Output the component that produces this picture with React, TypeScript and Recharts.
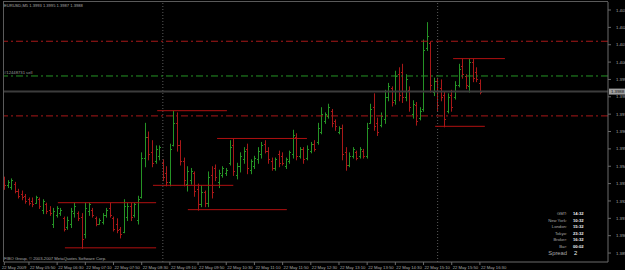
import React from 'react';
import { ComposedChart, Bar, XAxis, YAxis, ReferenceLine } from 'recharts';

// EURUSD M5, 22 May 2009, bars from 05:15 to 16:30 (one value per bar)
const opens = [
  1.3938, 1.3934, 1.3933, 1.3935, 1.3931, 1.3929, 1.3928, 1.3926, 1.3925, 1.3924,
  1.3926, 1.3920, 1.3923, 1.3920, 1.3912, 1.3917, 1.3918, 1.3915, 1.3910, 1.3912,
  1.3918, 1.3918, 1.3916, 1.3906, 1.3919, 1.3920, 1.3915, 1.3912, 1.3913, 1.3917,
  1.3921, 1.3915, 1.3912, 1.3909, 1.3907, 1.3916, 1.3922, 1.3917, 1.3914, 1.3927,
  1.3950, 1.3962, 1.3953, 1.3948, 1.3951, 1.3947, 1.3941, 1.3936, 1.3957, 1.3970,
  1.3957, 1.3948, 1.3935, 1.3937, 1.3941, 1.3932, 1.3923, 1.3930, 1.3924, 1.3940,
  1.3944, 1.3936, 1.3940, 1.3941, 1.3947, 1.3957, 1.3940, 1.3945, 1.3949, 1.3955,
  1.3943, 1.3945, 1.3949, 1.3952, 1.3958, 1.3954, 1.3948, 1.3944, 1.3952, 1.3951,
  1.3945, 1.3948, 1.3952, 1.3962, 1.3951, 1.3955, 1.3950, 1.3954, 1.3958, 1.3959,
  1.3965, 1.3971, 1.3974, 1.3977, 1.3971, 1.3965, 1.3967, 1.3953, 1.3946, 1.3951,
  1.3953, 1.3951, 1.3954, 1.3951, 1.3970, 1.3979, 1.3970, 1.3969, 1.3972, 1.3985,
  1.3990, 1.3983, 1.3998, 1.3999, 1.3985, 1.3989, 1.3975, 1.3980, 1.3973, 1.3978,
  1.4013, 1.4016, 1.3988, 1.3994, 1.3990, 1.3986, 1.3977, 1.3986, 1.3985, 1.3992,
  1.4003, 1.3997, 1.3991, 1.4005, 1.3999, 1.3993,
];
const highs = [
  1.3939, 1.3937, 1.3938, 1.3936, 1.3932, 1.3931, 1.3929, 1.3927, 1.3927, 1.3928,
  1.3927, 1.3926, 1.3924, 1.3922, 1.3921, 1.3922, 1.3921, 1.3916, 1.3916, 1.3921,
  1.3924, 1.3919, 1.3918, 1.3924, 1.3924, 1.3921, 1.3916, 1.3915, 1.3918, 1.3921,
  1.3924, 1.3916, 1.3915, 1.3910, 1.3926, 1.3924, 1.3924, 1.3924, 1.3928, 1.3953,
  1.3970, 1.3965, 1.3960, 1.3957, 1.3957, 1.3949, 1.3945, 1.3958, 1.3977, 1.3976,
  1.3960, 1.3950, 1.3945, 1.3944, 1.3942, 1.3935, 1.3934, 1.3931, 1.3942, 1.3945,
  1.3946, 1.3943, 1.3945, 1.3944, 1.3960, 1.3961, 1.3947, 1.3953, 1.3956, 1.3958,
  1.3949, 1.3951, 1.3956, 1.3959, 1.3960, 1.3956, 1.3950, 1.3950, 1.3954, 1.3953,
  1.3950, 1.3954, 1.3966, 1.3964, 1.3956, 1.3956, 1.3957, 1.3959, 1.3960, 1.3970,
  1.3979, 1.3976, 1.3981, 1.3978, 1.3972, 1.3968, 1.3969, 1.3956, 1.3953, 1.3956,
  1.3954, 1.3956, 1.3955, 1.3970, 1.3981, 1.3987, 1.3973, 1.3976, 1.3989, 1.3993,
  1.3991, 1.4000, 1.4002, 1.4004, 1.3998, 1.3991, 1.3983, 1.3982, 1.3979, 1.4018,
  1.4028, 1.4017, 1.3996, 1.3996, 1.3995, 1.3988, 1.3987, 1.3989, 1.3994, 1.4004,
  1.4007, 1.3998, 1.4007, 1.4007, 1.4002, 1.3995,
];
const lows = [
  1.3932, 1.3933, 1.3932, 1.3930, 1.3927, 1.3926, 1.3924, 1.3923, 1.3922, 1.3924,
  1.3921, 1.3918, 1.3918, 1.3917, 1.3910, 1.3916, 1.3917, 1.3908, 1.3909, 1.3910,
  1.3916, 1.3914, 1.3898, 1.3904, 1.3917, 1.3916, 1.3911, 1.3912, 1.3912, 1.3916,
  1.3916, 1.3908, 1.3907, 1.3904, 1.3907, 1.3914, 1.3914, 1.3916, 1.3912, 1.3927,
  1.3945, 1.3949, 1.3945, 1.3947, 1.3949, 1.3937, 1.3934, 1.3934, 1.3957, 1.3954,
  1.3946, 1.3934, 1.3931, 1.3935, 1.3928, 1.3920, 1.3922, 1.3922, 1.3922, 1.3927,
  1.3937, 1.3933, 1.3939, 1.3940, 1.3946, 1.3940, 1.3938, 1.3942, 1.3947, 1.3941,
  1.3941, 1.3944, 1.3947, 1.3950, 1.3953, 1.3947, 1.3943, 1.3943, 1.3945, 1.3946,
  1.3944, 1.3947, 1.3950, 1.3949, 1.3950, 1.3947, 1.3949, 1.3953, 1.3954, 1.3958,
  1.3964, 1.3970, 1.3973, 1.3968, 1.3966, 1.3964, 1.3949, 1.3943, 1.3945, 1.3950,
  1.3949, 1.3950, 1.3950, 1.3950, 1.3970, 1.3966, 1.3963, 1.3968, 1.3970, 1.3983,
  1.3980, 1.3981, 1.3983, 1.3982, 1.3983, 1.3977, 1.3973, 1.3969, 1.3972, 1.3977,
  1.4012, 1.3988, 1.3986, 1.3977, 1.3983, 1.3968, 1.3976, 1.3977, 1.3984, 1.3991,
  1.3996, 1.3990, 1.3988, 1.3994, 1.3994, 1.3987,
];
const closes = [
  1.3934, 1.3936, 1.3937, 1.3931, 1.3928, 1.3927, 1.3925, 1.3924, 1.3923, 1.3927,
  1.3922, 1.3925, 1.3919, 1.3918, 1.3919, 1.3921, 1.3920, 1.3909, 1.3914, 1.3919,
  1.3922, 1.3915, 1.3903, 1.3921, 1.3923, 1.3917, 1.3912, 1.3914, 1.3917, 1.3920,
  1.3917, 1.3909, 1.3908, 1.3906, 1.3922, 1.3922, 1.3916, 1.3923, 1.3926, 1.3950,
  1.3962, 1.3952, 1.3947, 1.3955, 1.3956, 1.3939, 1.3936, 1.3955, 1.3970, 1.3957,
  1.3948, 1.3937, 1.3942, 1.3942, 1.3931, 1.3923, 1.3930, 1.3924, 1.3939, 1.3930,
  1.3939, 1.3941, 1.3944, 1.3943, 1.3956, 1.3942, 1.3945, 1.3951, 1.3954, 1.3944,
  1.3948, 1.3950, 1.3954, 1.3957, 1.3954, 1.3949, 1.3944, 1.3949, 1.3947, 1.3947,
  1.3949, 1.3953, 1.3963, 1.3951, 1.3955, 1.3949, 1.3955, 1.3958, 1.3955, 1.3967,
  1.3975, 1.3975, 1.3979, 1.3970, 1.3968, 1.3967, 1.3952, 1.3946, 1.3951, 1.3955,
  1.3950, 1.3955, 1.3951, 1.3967, 1.3978, 1.3968, 1.3965, 1.3974, 1.3985, 1.3991,
  1.3982, 1.3997, 1.3986, 1.3985, 1.3995, 1.3979, 1.3981, 1.3971, 1.3977, 1.4012,
  1.4020, 1.3992, 1.3994, 1.3980, 1.3985, 1.3972, 1.3985, 1.3979, 1.3992, 1.4001,
  1.3998, 1.3992, 1.4005, 1.3996, 1.3995, 1.3988,
];

// time axis: bar index of each label, and its text
const timeTicks = [0, 7, 15, 23, 31, 39, 47, 55, 63, 71, 79, 87, 95, 103, 111, 119, 127, 135];
const timeLabels = [
  '22 May 2009', '22 May 05:50', '22 May 06:30', '22 May 07:10', '22 May 07:50', '22 May 08:30',
  '22 May 09:10', '22 May 09:50', '22 May 10:30', '22 May 11:10', '22 May 11:50', '22 May 12:30',
  '22 May 13:10', '22 May 13:50', '22 May 14:30', '22 May 15:10', '22 May 15:50', '22 May 16:30',
];

const priceTicks = [
  1.4035, 1.4025, 1.4015, 1.4005, 1.3995, 1.3985, 1.3975, 1.3965,
  1.3955, 1.3945, 1.3935, 1.3925, 1.3915, 1.3905, 1.3895,
];

// order / stop / target lines
const redLevels = [1.4017, 1.3974];
const orderLevel = 1.3997;
const orderLabel = '#12448731 sell';
const bidPrice = 1.3988;

// range segments drawn by an indicator: [fromBar, toBar, price]
const segments: [number, number, number][] = [
  [15.2, 43.1, 1.3924],
  [17.2, 43.1, 1.3898],
  [43.4, 63.2, 1.3977],
  [42.2, 65.0, 1.3934],
  [52.1, 80.2, 1.3920],
  [60.4, 85.9, 1.3961],
  [127.4, 142.1, 1.4007],
  [122.3, 136.4, 1.3968],
];

const separatorBars = [45, 123];

const infoNames = ['GMT:', 'New York:', 'London:', 'Tokyo:', 'Broker:', 'Bar:'];
const infoValues = ['14:32', '10:32', '15:32', '23:32', '16:32', '00:02'];

const UP = '#259325';
const DOWN = '#a81818';
const TEXT = '#a8a8a8';
const FONT = '"Liberation Sans", Arial, sans-serif';

const rows = opens.map((o, i) => ({
  i,
  open: o,
  high: highs[i],
  low: lows[i],
  close: closes[i],
  range: [lows[i], highs[i]],
}));

// the browser will not draw text below 6px, so tiny text is drawn large and scaled down
function Tiny(props: any) {
  const { x, y, size, anchor = 'start', fill = TEXT, weight = 'normal', children } = props;
  const k = size / 8;
  return (
    <g transform={`translate(${x},${y}) scale(${k})`}>
      <text x={0} y={0} fontSize={8} fill={fill} fontFamily={FONT} textAnchor={anchor} fontWeight={weight}>
        {children}
      </text>
    </g>
  );
}

function OhlcBar(props: any) {
  const { x, y, width, height, payload } = props;
  if (x == null || y == null) return null;
  const cx = Math.round(x + width / 2) + 0.5;
  const top = Math.min(y, y + height);
  const bot = Math.max(y, y + height);
  const span = payload.high - payload.low || 1e-9;
  const yO = top + ((payload.high - payload.open) / span) * (bot - top);
  const yC = top + ((payload.high - payload.close) / span) * (bot - top);
  const color = payload.close >= payload.open ? UP : DOWN;
  return (
    <g stroke={color} strokeWidth={1}>
      <line x1={cx} x2={cx} y1={top} y2={bot + 1} />
      <line x1={cx - 1.5} x2={cx} y1={Math.round(yO) + 0.5} y2={Math.round(yO) + 0.5} />
      <line x1={cx} x2={cx + 1.5} y1={Math.round(yC) + 0.5} y2={Math.round(yC) + 0.5} />
    </g>
  );
}

function TimeTick(props: any) {
  const { x, y, payload } = props;
  const k = timeTicks.indexOf(payload.value);
  // the first label (the date) sits against the left frame
  const tx = k === 0 ? 2 : x + 1;
  return (
    <g>
      <line x1={x} x2={x} y1={y} y2={y + 3} stroke="#6a6a6a" />
      <Tiny x={tx} y={y + 6.5} size={4.2}>
        {timeLabels[k]}
      </Tiny>
    </g>
  );
}

function PriceTick(props: any) {
  const { x, y, payload } = props;
  return (
    <Tiny x={x} y={y + 1.6} size={4.3}>
      {payload.value.toFixed(4)}
    </Tiny>
  );
}

function BidLabel(props: any) {
  const { viewBox } = props;
  const yy = viewBox.y;
  return (
    <g>
      <rect x={609} y={yy - 3} width={16} height={6} fill="#a0a0a0" />
      <Tiny x={611} y={yy + 1.6} size={4.3} fill="#101010">
        {bidPrice.toFixed(4)}
      </Tiny>
    </g>
  );
}

function OrderLabel(props: any) {
  const { viewBox } = props;
  return (
    <Tiny x={viewBox.x} y={viewBox.y - 1.5} size={4.2} fill="#9a9a9a">
      {orderLabel}
    </Tiny>
  );
}

export default function App() {
  return (
    <div
      style={{
        position: 'absolute',
        left: 0,
        top: 0,
        width: 625,
        height: 270,
        background: '#000',
        overflow: 'hidden',
      }}
    >
      <ComposedChart
        width={625}
        height={270}
        data={rows}
        margin={{ top: 2, right: 0, bottom: 0, left: 4 }}
      >
        <XAxis
          dataKey="i"
          type="number"
          domain={[-0.085, 171.36]}
          ticks={timeTicks}
          interval={0}
          height={8}
          tickLine={false}
          tickSize={0}
          tickMargin={0}
          axisLine={{ stroke: '#6a6a6a' }}
          tick={<TimeTick />}
        />
        <YAxis
          orientation="right"
          type="number"
          domain={[1.388984, 1.403961]}
          ticks={priceTicks}
          interval={0}
          width={17}
          tickSize={3}
          tickMargin={5}
          tickLine={{ stroke: '#6a6a6a' }}
          axisLine={{ stroke: '#6a6a6a' }}
          tick={<PriceTick />}
        />
        {separatorBars.map((b) => (
          <ReferenceLine key={b} x={b} stroke="#5a5a5a" strokeDasharray="1 2" />
        ))}
        {redLevels.map((p) => (
          <ReferenceLine key={p} y={p} stroke={DOWN} strokeDasharray="7 3 2 3" />
        ))}
        <ReferenceLine
          y={orderLevel}
          stroke={UP}
          strokeDasharray="7 3 2 3"
          label={<OrderLabel />}
        />
        <ReferenceLine y={bidPrice} stroke="#3c3c3c" strokeWidth={2} label={<BidLabel />} />
        {segments.map(([a, b, p], k) => (
          <ReferenceLine
            key={k}
            segment={[
              { x: a, y: p },
              { x: b, y: p },
            ]}
            stroke="#b01010"
            strokeWidth={1}
          />
        ))}
        <Bar dataKey="range" barSize={1} shape={<OhlcBar />} isAnimationActive={false} />
      </ComposedChart>

      <svg
        width={625}
        height={270}
        style={{ position: 'absolute', left: 0, top: 0, pointerEvents: 'none' }}
      >
        {/* frame, top and left */}
        <line x1={3.5} x2={3.5} y1={1} y2={262} stroke="#5a5a5a" />
        <line x1={3.5} x2={608} y1={1.5} y2={1.5} stroke="#5a5a5a" />

        <Tiny x={4} y={6.5} size={4.1}>
          {'EURUSD,M5  1.3993 1.3995 1.3987 1.3988'}
        </Tiny>
        <Tiny x={4} y={259.5} size={4.2}>
          FIBO Group, © 2003-2007 MetaQuotes Software Corp.
        </Tiny>

        {infoNames.map((n, k) => (
          <React.Fragment key={n}>
            <Tiny x={567} y={215 + k * 6.6} size={4.2} anchor="end">
              {n}
            </Tiny>
            <Tiny x={573} y={215 + k * 6.6} size={4.1} fill="#f2f2f2" weight="bold">
              {infoValues[k]}
            </Tiny>
          </React.Fragment>
        ))}
        <Tiny x={567} y={255} size={5.8} anchor="end">
          Spread
        </Tiny>
        <Tiny x={574} y={255} size={5.8} fill="#f2f2f2">
          2
        </Tiny>
      </svg>
    </div>
  );
}
